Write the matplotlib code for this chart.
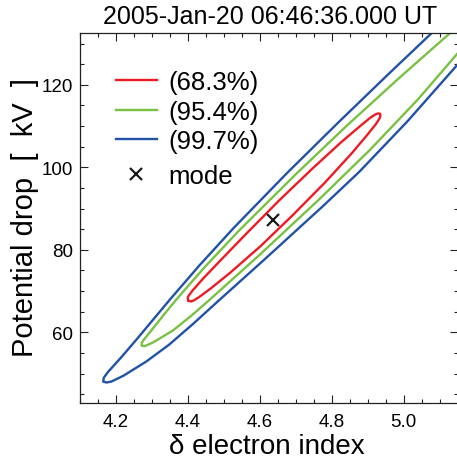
import matplotlib
matplotlib.use("Agg")
import matplotlib.pyplot as plt
from matplotlib.lines import Line2D
from matplotlib.ticker import MultipleLocator

plt.rcParams['font.family'] = ['Liberation Sans', 'DejaVu Sans']

# ---- data ----
title = "2005-Jan-20 06:46:36.000 UT"
xlabel = "\u03b4 electron index"
ylabel = "Potential drop  [  kV  ]"
labels = ["(68.3%)", "(95.4%)", "(99.7%)"]
colors = ["#ED1C24", "#7AC143", "#2152A4"]

# 68.3% contour (closed), traced
red_x = [4.4013, 4.4091, 4.4161, 4.4306, 4.4644, 4.5186, 4.6024, 4.6905, 4.7806,
         4.8559, 4.9010, 4.9237, 4.9329, 4.9353, 4.9347,
         4.9284, 4.9218, 4.9076, 4.8796, 4.8266, 4.7446, 4.6521, 4.5661, 4.4887,
         4.4406, 4.4130, 4.4027, 4.3995, 4.4013]
red_y = [67.66, 67.47, 67.71, 68.50, 70.68, 74.51, 80.90, 88.30, 96.24,
         103.40, 108.07, 110.56, 111.82, 112.42, 113.00,
         113.05, 112.84, 112.03, 110.03, 106.10, 99.54, 91.81, 84.22, 77.25,
         72.86, 70.11, 68.94, 68.35, 67.66]

# 95.4% contour (closes outside the axes), traced
green_x = [5.2361, 5.1296, 4.9857, 4.8417, 4.7047, 4.5426, 4.4472, 4.3699, 4.3308,
           4.2993, 4.2763, 4.2718, 4.2716,
           4.2804, 4.3037, 4.3582, 4.4105, 4.4587, 4.6036, 4.7664, 4.9059, 5.0403,
           5.1497, 5.2408]
green_y = [140.76, 132.57, 121.49, 110.06, 98.69, 84.69, 75.84, 68.15, 64.00,
           60.55, 58.08, 57.44, 56.75,
           56.65, 57.57, 60.42, 64.08, 67.75, 79.10, 92.33, 104.17, 116.49,
           127.57, 136.81]

# 99.7% contour (closes outside the axes), traced
blue_x = [5.1830, 5.0779, 4.9608, 4.8207, 4.6760, 4.5267, 4.4326, 4.3503, 4.3090,
          4.2660, 4.2188, 4.1777, 4.1660, 4.1648,
          4.1746, 4.1874, 4.2205, 4.2843, 4.3474, 4.4148, 4.4868, 4.6111, 4.7755,
          4.8766, 5.0112, 5.1498, 5.2521]
blue_y = [141.18, 132.52, 122.84, 111.06, 98.62, 85.23, 76.26, 67.96, 63.66,
          59.16, 54.34, 50.36, 48.96, 48.02,
          47.83, 48.06, 49.46, 52.91, 56.97, 62.06, 67.77, 77.50, 90.57,
          98.89, 111.19, 124.87, 134.85]

mode_x = [4.637]
mode_y = [87.2]

xlim = (4.1, 5.15)
ylim = (42.86, 132.56)

# ---- figure ----
W, H = 457, 464
fig = plt.figure(figsize=(W / 100, H / 100), dpi=100)
ax = fig.add_axes([80 / W, 60 / H, 377.5 / W, 370 / H])

lw = 1.7
for xs, ys, c in ((red_x, red_y, colors[0]), (green_x, green_y, colors[1]),
                  (blue_x, blue_y, colors[2])):
    ax.plot(xs, ys, color=c, lw=lw, solid_joinstyle='round',
            solid_capstyle='round')
ax.plot(mode_x, mode_y, linestyle='none', marker='x', color='#1a1a1a',
        markersize=8.5, markeredgewidth=1.6)

ax.set_xlim(*xlim)
ax.set_ylim(*ylim)
ax.xaxis.set_major_locator(MultipleLocator(0.2))
ax.xaxis.set_minor_locator(MultipleLocator(0.05))
ax.yaxis.set_major_locator(MultipleLocator(20))
ax.yaxis.set_minor_locator(MultipleLocator(5))
ax.xaxis.set_major_formatter(plt.FormatStrFormatter('%.1f'))
ax.yaxis.set_major_formatter(plt.FormatStrFormatter('%d'))

ax.tick_params(which='both', direction='in', top=True, right=True,
               color='#222222', width=0.8, labelsize=13.5)
ax.tick_params(axis='x', pad=7)
ax.tick_params(axis='y', pad=5)
ax.tick_params(which='major', length=5.5)
ax.tick_params(which='minor', length=3)
for s in ax.spines.values():
    s.set_linewidth(0.9)
    s.set_color('#222222')

leg_fs = 18.5
handles = [Line2D([], [], color=c, lw=lw) for c in colors]
leg1 = ax.legend(handles, labels, loc='upper left', frameon=False,
                 fontsize=leg_fs, handlelength=1.6, handletextpad=0.44,
                 labelspacing=0.22, borderaxespad=0.0,
                 bbox_to_anchor=(0.0673, 0.9276))
ax.add_artist(leg1)
mode_handle = Line2D([], [], linestyle='none', marker='x', color='#1a1a1a',
                     markersize=8.5, markeredgewidth=1.6)
ax.legend([mode_handle], ["mode"], loc='upper left', frameon=False,
          fontsize=leg_fs, handlelength=1.6, handletextpad=0.44,
          borderaxespad=0.0, bbox_to_anchor=(0.0673, 0.6724))

fig.text(270 / W, 1 - 24 / H, title, ha='center', va='baseline', fontsize=18)
fig.text(267 / W, 1 - 454 / H, xlabel, ha='center', va='baseline', fontsize=20)
fig.text(33 / W, 1 - 217.5 / H, ylabel, ha='center', va='baseline',
         rotation=90, rotation_mode='anchor', fontsize=21)

fig.savefig("out.png", dpi=100)
